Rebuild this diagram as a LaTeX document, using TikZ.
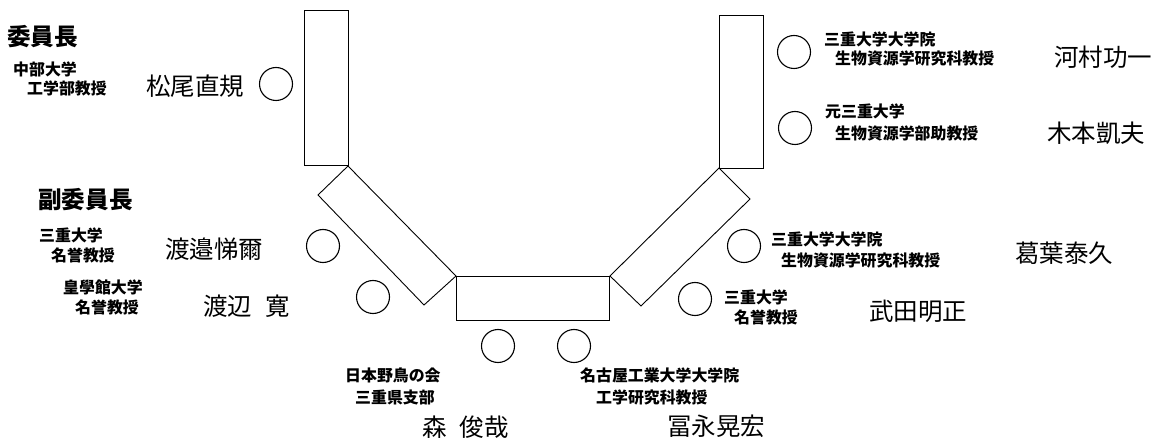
\documentclass[tikz,border=0pt]{standalone}
\usepackage{fontspec}
\newfontfamily\jp{Noto Sans CJK JP}
\begin{document}
\begin{tikzpicture}[x=1pt,y=-1pt,
  tbl/.style={draw=black,line width=0.9pt,fill=white},
  seat/.style={draw=black,line width=1.1pt,circle,minimum size=33pt,inner sep=0pt},
  hdtxt/.style={anchor=west,inner sep=0pt,font=\jp\bfseries\fontsize{23.6}{26}\selectfont},
  afftxt/.style={anchor=west,inner sep=0pt,font=\jp\bfseries\fontsize{15.9}{18}\selectfont},
  nmtxt/.style={anchor=west,inner sep=0pt,font=\jp\fontsize{24.5}{27}\selectfont}]
\useasboundingbox (0,0) rectangle (1167,446);
% tables
\draw[tbl] (304,10) rectangle (348,165);
\draw[tbl] (348,166) -- (456,276) -- (424,305) -- (318,195) -- cycle;
\draw[tbl] (456,276) rectangle (609,320);
\draw[tbl] (719,168) -- (750,199) -- (641,306) -- (610,276) -- cycle;
\draw[tbl] (719,15) rectangle (763,168);
% seats
\node[seat] (s1) at (276,84) {};
\node[seat] (s2) at (323,246) {};
\node[seat] (s3) at (373,297) {};
\node[seat] (s4) at (498,346) {};
\node[seat] (s5) at (574,346) {};
\node[seat] (s6) at (695,299) {};
\node[seat] (s7) at (744,246) {};
\node[seat] (s8) at (795,128) {};
\node[seat] (s9) at (794,52) {};
% headings
\node[hdtxt] (h1) at (7,37) {委員長};
\node[hdtxt] (h2) at (38,200) {副委員長};
% left side
\node[afftxt] (a1a) at (13,69) {中部大学};
\node[afftxt] (a1b) at (27,88) {工学部教授};
\node[nmtxt] (n1) at (146,86) {松尾直規};
\node[afftxt] (a2a) at (39,235) {三重大学};
\node[afftxt] (a2b) at (51,255) {名誉教授};
\node[nmtxt] (n2) at (165,249) {渡邉悌爾};
\node[afftxt] (a3a) at (63,287) {皇學館大学};
\node[afftxt] (a3b) at (75,307) {名誉教授};
\node[nmtxt] (n3) at (203,306) {渡辺\hspace{13pt}寛};
% bottom
\node[afftxt] (a4a) at (345,375) {日本野鳥の会};
\node[afftxt] (a4b) at (355,397) {三重県支部};
\node[nmtxt] (n4) at (422,427) {森\hspace{13pt}俊哉};
\node[afftxt] (a5a) at (580,375) {名古屋工業大学大学院};
\node[afftxt] (a5b) at (596,397) {工学研究科教授};
\node[nmtxt] (n5) at (667,426) {冨永晃宏};
% right side
\node[afftxt] (a6a) at (724,297) {三重大学};
\node[afftxt] (a6b) at (734,317) {名誉教授};
\node[nmtxt] (n6) at (869,311) {武田明正};
\node[afftxt] (a7a) at (771,239) {三重大学大学院};
\node[afftxt] (a7b) at (781,260) {生物資源学研究科教授};
\node[nmtxt] (n7) at (1015,253) {葛葉泰久};
\node[afftxt] (a8a) at (825,111) {元三重大学};
\node[afftxt] (a8b) at (835,133) {生物資源学部助教授};
\node[nmtxt] (n8) at (1047,133) {木本凱夫};
\node[afftxt] (a9a) at (824,39) {三重大学大学院};
\node[afftxt] (a9b) at (835,58) {生物資源学研究科教授};
\node[nmtxt] (n9) at (1054,57) {河村功一};
\end{tikzpicture}
\end{document}
